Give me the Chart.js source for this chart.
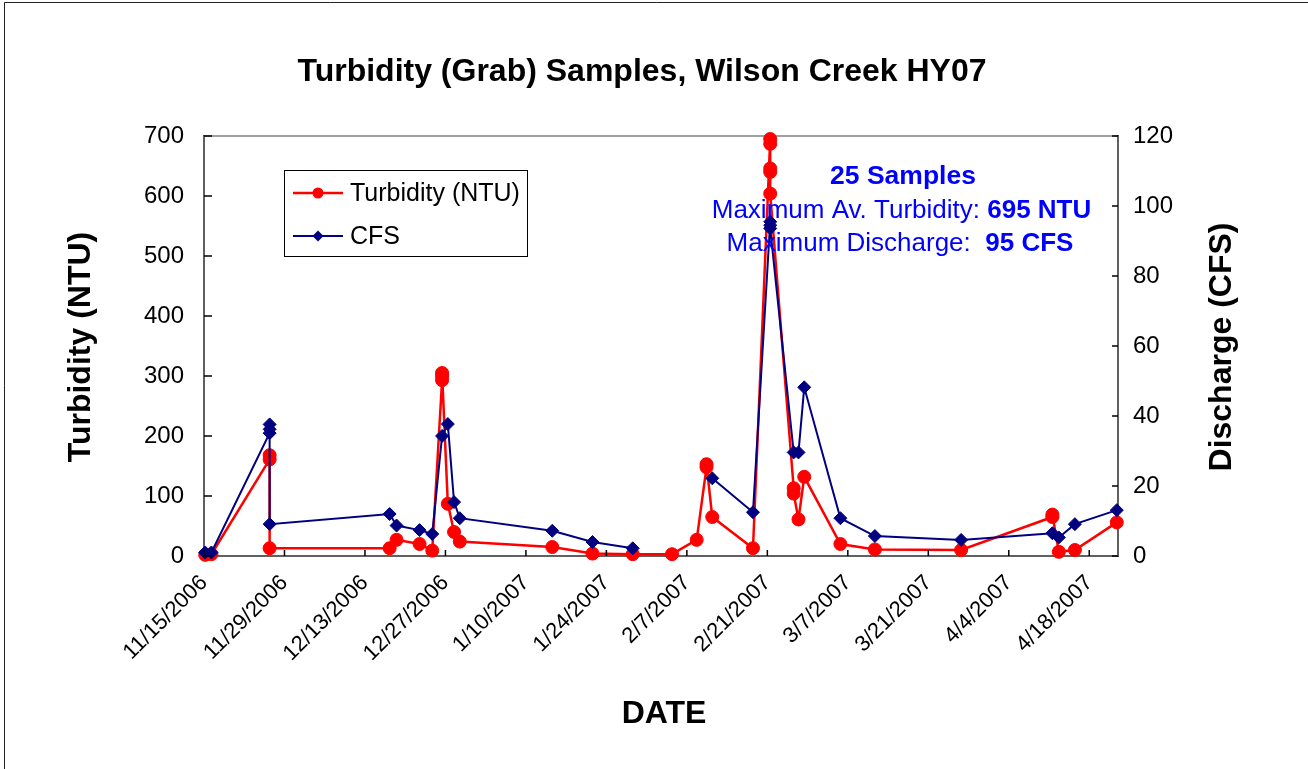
<!DOCTYPE html>
<html>
<head>
<meta charset="utf-8">
<script src="https://cdn.jsdelivr.net/npm/chart.js@4.4.1/dist/chart.umd.min.js"></script>
<style>
  html, body { margin: 0; padding: 0; background: #ffffff; }
  #wrap { position: relative; width: 1308px; height: 769px; }
  canvas { position: absolute; left: 0; top: 0; }
</style>
</head>
<body>
<div id="wrap"><canvas id="c" width="1308" height="769"></canvas></div>
<script>
// ---------------- DATA ----------------
const chartTitle = "Turbidity (Grab) Samples, Wilson Creek HY07";
const xAxisTitle = "DATE";
const yLeftTitle = "Turbidity (NTU)";
const yRightTitle = "Discharge (CFS)";

const xTickLabels = ["11/15/2006","11/29/2006","12/13/2006","12/27/2006","1/10/2007","1/24/2007",
                     "2/7/2007","2/21/2007","3/7/2007","3/21/2007","4/4/2007","4/18/2007"];
const xAxisStart = "11/15/2006";
const xAxisEnd = "4/23/2007";

const turbidityDates = [
  "2006-11-15T05:00","2006-11-16T07:00",
  "2006-11-26T10:00","2006-11-26T10:00","2006-11-26T10:00",
  "2006-12-17T07:00","2006-12-18T12:00","2006-12-22T12:00","2006-12-24T17:00",
  "2006-12-26T10:00","2006-12-26T10:00","2006-12-26T10:00",
  "2006-12-27T10:00","2006-12-28T12:00","2006-12-29T12:00",
  "2007-01-14T14:00","2007-01-21T14:00","2007-01-28T14:00",
  "2007-02-04T10:00","2007-02-08T17:00","2007-02-10T10:00","2007-02-10T10:00",
  "2007-02-11T10:00","2007-02-18T12:00",
  "2007-02-21T12:00","2007-02-21T12:00","2007-02-21T12:00","2007-02-21T12:00","2007-02-21T12:00",
  "2007-02-25T14:00","2007-02-25T14:00","2007-02-26T10:00","2007-02-27T10:00",
  "2007-03-05T17:00","2007-03-11T17:00","2007-03-26T17:00",
  "2007-04-11T14:00","2007-04-11T14:00","2007-04-12T17:00","2007-04-15T12:00","2007-04-22T19:00"
];
const turbidityNTU = [
  2, 3,
  161, 168, 13,
  13, 27, 20, 9,
  293, 300, 305,
  87, 40, 24,
  15, 4, 3,
  3, 27, 148, 153,
  65, 13,
  695, 687, 646, 640, 604,
  113, 104, 61, 132,
  20, 11, 10,
  65, 69, 7, 10, 56
];

const dischargeDates = [
  "2006-11-15T05:00","2006-11-16T07:00",
  "2006-11-26T10:00","2006-11-26T10:00","2006-11-26T10:00","2006-11-26T10:00",
  "2006-12-17T07:00","2006-12-18T12:00","2006-12-22T12:00","2006-12-24T17:00",
  "2006-12-26T10:00","2006-12-27T10:00","2006-12-28T12:00","2006-12-29T12:00",
  "2007-01-14T14:00","2007-01-21T14:00","2007-01-28T14:00",
  "2007-02-04T10:00",
  "2007-02-11T10:00","2007-02-18T12:00",
  "2007-02-21T12:00","2007-02-21T12:00","2007-02-21T12:00",
  "2007-02-25T14:00","2007-02-26T10:00","2007-02-27T10:00",
  "2007-03-05T17:00","2007-03-11T17:00","2007-03-26T17:00",
  "2007-04-11T14:00","2007-04-12T17:00","2007-04-15T12:00","2007-04-22T19:00"
];
const dischargeCFS = [
  1, 1,
  35.1, 36.2, 37.6, 9.1,
  12, 8.7, 7.4, 6.3,
  34.3, 37.7, 15.4, 10.8,
  7.2, 4, 2.2,
  null,
  22.2, 12.5,
  95.5, 94.5, 93.6,
  29.6, 29.6, 48.2,
  10.8, 5.7, 4.6,
  6.5, 5.3, 9.1, 13.1
];

const annotation = {
  line1: "25 Samples",
  line2a: "Maximum Av. Turbidity: ", line2b: "695 NTU",
  line3a: "Maximum Discharge:  ", line3b: "95 CFS"
};

// ---------------- HELPERS ----------------
const FONT = '"Liberation Sans", Arial, Helvetica, sans-serif';
const ORIGIN = Date.UTC(2006, 10, 15);
function dayOfIso(s) { return (Date.parse(s + ":00Z") - ORIGIN) / 864e5; }
function dayOfMDY(s) { const [m, d, y] = s.split("/").map(Number); return (Date.UTC(y, m - 1, d) - ORIGIN) / 864e5; }
const xTickDays = xTickLabels.map(dayOfMDY);

const turbPoints = turbidityDates.map((d, i) => ({ x: dayOfIso(d), y: turbidityNTU[i] }));
const cfsPoints = dischargeDates.map((d, i) => ({ x: dayOfIso(d), y: dischargeCFS[i] }));

const RED = "#FF0000", NAVY = "#000080", ABLUE = "#0000FF";

const decor = {
  id: "decor",
  beforeDatasetsDraw(chart) {
    const { ctx, chartArea: a } = chart;
    ctx.save();
    ctx.strokeStyle = "#808080"; ctx.lineWidth = 1.5;
    ctx.strokeRect(a.left, a.top, a.right - a.left, a.bottom - a.top);
    ctx.restore();
  },
  afterDraw(chart) {
    const { ctx, chartArea: a, scales } = chart;
    ctx.save();
    // outer frame (left and top)
    ctx.strokeStyle = "#222"; ctx.lineWidth = 1;
    ctx.beginPath(); ctx.moveTo(4.5, 769); ctx.lineTo(4.5, 2.5); ctx.lineTo(1308, 2.5); ctx.stroke();

    // inside tick marks
    ctx.strokeStyle = "#000"; ctx.lineWidth = 1.5;
    ctx.beginPath();
    scales.x.ticks.forEach(t => { const px = scales.x.getPixelForValue(t.value); ctx.moveTo(px, a.bottom); ctx.lineTo(px, a.bottom - 6); });
    scales.y.ticks.forEach(t => { const py = scales.y.getPixelForValue(t.value); ctx.moveTo(a.left, py); ctx.lineTo(a.left + 8, py); });
    scales.y1.ticks.forEach(t => { const py = scales.y1.getPixelForValue(t.value); ctx.moveTo(a.right, py); ctx.lineTo(a.right - 6, py); });
    ctx.stroke();

    // chart title
    ctx.fillStyle = "#000"; ctx.textAlign = "center"; ctx.textBaseline = "middle";
    ctx.font = "bold 32px " + FONT;
    ctx.fillText(chartTitle, 642, 72);
    // axis titles
    ctx.fillText(xAxisTitle, 664, 714);
    ctx.save(); ctx.translate(81, 347); ctx.rotate(-Math.PI / 2); ctx.fillText(yLeftTitle, 0, 0); ctx.restore();
    ctx.save(); ctx.translate(1222, 347); ctx.rotate(-Math.PI / 2); ctx.fillText(yRightTitle, 0, 0); ctx.restore();

    // legend
    const ds = chart.data.datasets;
    ctx.strokeStyle = "#000"; ctx.lineWidth = 1;
    ctx.strokeRect(284.5, 170.5, 243, 86);
    const entries = [{ d: ds[1], y: 193 }, { d: ds[0], y: 236 }];
    entries.forEach(e => {
      ctx.strokeStyle = e.d.borderColor; ctx.lineWidth = e.d.borderWidth;
      ctx.beginPath(); ctx.moveTo(293, e.y); ctx.lineTo(343, e.y); ctx.stroke();
      ctx.fillStyle = e.d.pointBackgroundColor;
      ctx.beginPath();
      if (e.d.pointStyle === "circle") { ctx.arc(318, e.y, 5.5, 0, Math.PI * 2); }
      else { ctx.moveTo(318, e.y - 5.5); ctx.lineTo(323.5, e.y); ctx.lineTo(318, e.y + 5.5); ctx.lineTo(312.5, e.y); ctx.closePath(); }
      ctx.fill();
      ctx.fillStyle = "#000"; ctx.textAlign = "left"; ctx.textBaseline = "middle";
      ctx.font = "25px " + FONT;
      ctx.fillText(e.d.label, 350, e.y + 1);
    });

    // annotation
    ctx.fillStyle = ABLUE; ctx.textBaseline = "middle";
    ctx.font = "bold 26.5px " + FONT; ctx.textAlign = "center";
    ctx.fillText(annotation.line1, 903, 177);
    const drawMixed = (ra, rb, cx, y) => {
      ctx.font = "26px " + FONT; const w1 = ctx.measureText(ra).width;
      ctx.font = "bold 26px " + FONT; const w2 = ctx.measureText(rb).width;
      const x0 = cx - (w1 + w2) / 2;
      ctx.textAlign = "left";
      ctx.font = "26px " + FONT; ctx.fillText(ra, x0, y);
      ctx.font = "bold 26px " + FONT; ctx.fillText(rb, x0 + w1, y);
    };
    drawMixed(annotation.line2a, annotation.line2b, 901.5, 211);
    drawMixed(annotation.line3a, annotation.line3b, 900, 244);
    ctx.restore();
  }
};

const tickFont = { family: FONT, size: 24 };

new Chart(document.getElementById("c"), {
  type: "line",
  data: {
    datasets: [
      {
        label: "CFS", data: cfsPoints, yAxisID: "y1", order: 0,
        borderColor: NAVY, backgroundColor: NAVY, borderWidth: 2,
        pointStyle: "rectRot", pointRadius: 6.5, pointBackgroundColor: NAVY, pointBorderColor: NAVY, pointBorderWidth: 1,
        tension: 0, spanGaps: false, clip: false
      },
      {
        label: "Turbidity (NTU)", data: turbPoints, yAxisID: "y", order: 1,
        borderColor: RED, backgroundColor: RED, borderWidth: 2.5,
        pointStyle: "circle", pointRadius: 6.5, pointBackgroundColor: RED, pointBorderColor: RED, pointBorderWidth: 1,
        tension: 0, spanGaps: false, clip: false
      }
    ]
  },
  options: {
    responsive: false, animation: false, events: [],
    layout: { padding: { left: 0, right: 0, top: 136, bottom: 0 } },
    plugins: { legend: { display: false }, tooltip: { enabled: false }, title: { display: false } },
    scales: {
      x: {
        type: "linear", min: dayOfMDY(xAxisStart), max: dayOfMDY(xAxisEnd),
        afterBuildTicks: s => { s.ticks = xTickDays.map(v => ({ value: v })); },
        afterFit: s => { s.height = 213; },
        ticks: {
          autoSkip: false, minRotation: 45, maxRotation: 45, color: "#000",
          font: { family: FONT, size: 22 }, padding: 14,
          callback: v => { const i = xTickDays.indexOf(v); return i >= 0 ? xTickLabels[i] : ""; }
        },
        grid: { display: false, drawTicks: false },
        border: { display: true, color: "#000", width: 2 }
      },
      y: {
        position: "left", min: 0, max: 700,
        afterFit: s => { s.width = 204; },
        ticks: { stepSize: 100, color: "#000", font: tickFont, padding: 20 },
        grid: { display: false, drawTicks: false },
        border: { display: true, color: "#000", width: 2 }
      },
      y1: {
        position: "right", min: 0, max: 120,
        afterFit: s => { s.width = 190; },
        ticks: { stepSize: 20, color: "#000", font: tickFont, padding: 15 },
        grid: { display: false, drawTicks: false },
        border: { display: true, color: "#000", width: 2 }
      }
    }
  },
  plugins: [decor]
});
</script>
</body>
</html>
